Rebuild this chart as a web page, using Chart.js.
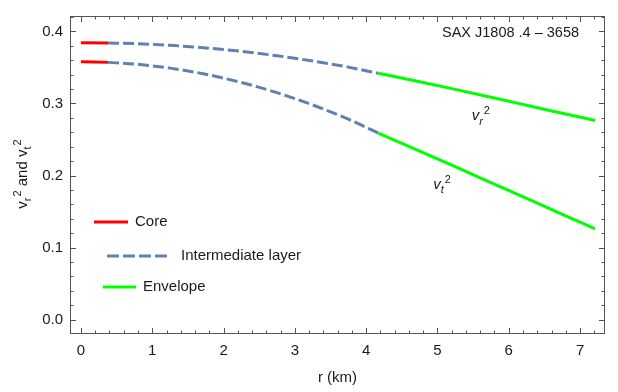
<!DOCTYPE html>
<html lang="en">
<head>
<meta charset="UTF-8" />
<title>SAX J1808.4-3658 sound speeds</title>
<script src="https://cdn.jsdelivr.net/npm/chart.js"></script>
<style>
  body { margin: 0; background: #fff; }
</style>
</head>
<body>
<canvas id="myChart" width="618" height="392"></canvas>
<script>
// radius (km) and squared sound speeds
const coreR = [0, 0.38];
const coreVr = [0.3845, 0.3841];
const coreVt = [0.3580, 0.3571];

const midR = [0.38, 0.75, 1.25, 1.75, 2.25, 2.75, 3.25, 3.75, 4.17];
const midVr = [0.3841, 0.3832, 0.3808, 0.3772, 0.3724, 0.3663, 0.3590, 0.3505, 0.342];
const midVt = [0.3571, 0.3548, 0.3491, 0.3406, 0.3292, 0.3150, 0.2980, 0.2782, 0.259];

const envR = [4.17, 4.75, 5.25, 5.75, 6.25, 6.75, 7.21];
const envVr = [0.342, 0.3302, 0.3196, 0.3087, 0.2976, 0.2864, 0.2765];
const envVt = [0.259, 0.2340, 0.2122, 0.1902, 0.1682, 0.1461, 0.126];

const xTicks = [0, 1, 2, 3, 4, 5, 6, 7];
const yTicks = [0, 0.1, 0.2, 0.3, 0.4];

const FONT = '"Liberation Sans", Arial, sans-serif';
const frameColor = '#555555';
const textColor = '#1a1a1a';
const blue = '#5e81b5';

function pts(xs, ys) {
  return xs.map((x, i) => ({ x: x, y: ys[i] }));
}

function line(label, xs, ys, color, dash) {
  return {
    label: label,
    data: pts(xs, ys),
    borderColor: color,
    borderWidth: 3,
    borderDash: dash || [],
    pointRadius: 0,
    cubicInterpolationMode: 'monotone',
    fill: false
  };
}

// v with sub and superscript 2, returns width
function drawV(ctx, x, y, sub, size, italic) {
  const st = italic ? 'italic ' : '';
  ctx.font = st + size + 'px ' + FONT;
  ctx.fillText('v', x, y);
  let w = ctx.measureText('v').width;
  const small = Math.round(size * 0.75);
  ctx.font = st + small + 'px ' + FONT;
  ctx.fillText(sub, x + w, y + size * 0.28);
  const sw = ctx.measureText(sub).width;
  ctx.font = small + 'px ' + FONT;
  ctx.fillText('2', x + w + sw + 1, y - size * 0.42);
  w += sw + 1 + ctx.measureText('2').width;
  return w;
}

const framePlugin = {
  id: 'frame',
  afterDraw(chart) {
    const ctx = chart.ctx;
    const a = chart.chartArea;
    const xs = chart.scales.x, ys = chart.scales.y;
    ctx.save();
    ctx.strokeStyle = frameColor;
    ctx.lineWidth = 1;
    ctx.strokeRect(a.left + 0.5, a.top + 0.5, a.right - a.left - 1, a.bottom - a.top - 1);
    ctx.beginPath();
    // x ticks every 0.2, major on integers
    for (let i = 0; i <= 36; i++) {
      const v = i * 0.2;
      const px = Math.round(xs.getPixelForValue(v)) + 0.5;
      if (px < a.left || px > a.right) continue;
      const len = (i % 5 === 0) ? 6 : 3.5;
      ctx.moveTo(px, a.bottom);
      ctx.lineTo(px, a.bottom - len);
      ctx.moveTo(px, a.top);
      ctx.lineTo(px, a.top + len);
    }
    // y ticks every 0.02, major every 0.1
    for (let i = 0; i <= 21; i++) {
      const v = i * 0.02;
      const py = Math.round(ys.getPixelForValue(v)) + 0.5;
      if (py < a.top || py > a.bottom) continue;
      const len = (i % 5 === 0) ? 6 : 3.5;
      ctx.moveTo(a.left, py);
      ctx.lineTo(a.left + len, py);
      ctx.moveTo(a.right, py);
      ctx.lineTo(a.right - len, py);
    }
    ctx.stroke();

    ctx.fillStyle = textColor;
    ctx.textBaseline = 'alphabetic';
    ctx.textAlign = 'left';

    // x title
    ctx.font = '15px ' + FONT;
    ctx.textAlign = 'center';
    ctx.fillText('r (km)', (a.left + a.right) / 2, 382);
    ctx.textAlign = 'left';

    // y title, rotated
    ctx.save();
    ctx.translate(27, 173);
    ctx.rotate(-Math.PI / 2);
    ctx.font = '15px ' + FONT;
    const andW = ctx.measureText(' and ').width;
    const total = 2 * 19 + andW;
    let cx = -total / 2;
    cx += drawV(ctx, cx, 0, 'r', 15, false);
    ctx.font = '15px ' + FONT;
    ctx.fillText(' and ', cx, 0);
    cx += andW;
    drawV(ctx, cx, 0, 't', 15, false);
    ctx.restore();

    // title tag
    ctx.font = '14.5px ' + FONT;
    ctx.fillText('SAX J1808 .4 \u2013 3658', 442, 37);

    // curve labels
    drawV(ctx, xs.getPixelForValue(5.48), ys.getPixelForValue(0.2765), 'r', 15, true);
    drawV(ctx, xs.getPixelForValue(4.94), ys.getPixelForValue(0.181), 't', 15, true);

    // legend
    const items = [
      { text: 'Core', color: 'red', dash: [], x0: 94, x1: 128, y: 222, tx: 135 },
      { text: 'Intermediate layer', color: blue, dash: [12, 4], x0: 107, x1: 170, y: 256, tx: 181 },
      { text: 'Envelope', color: '#00ff00', dash: [], x0: 103, x1: 136, y: 287, tx: 143 }
    ];
    items.forEach(it => {
      ctx.beginPath();
      ctx.strokeStyle = it.color;
      ctx.lineWidth = 3;
      ctx.setLineDash(it.dash);
      ctx.moveTo(it.x0, it.y);
      ctx.lineTo(it.x1, it.y);
      ctx.stroke();
      ctx.setLineDash([]);
      ctx.font = '15px ' + FONT;
      ctx.fillStyle = textColor;
      ctx.textBaseline = 'middle';
      ctx.fillText(it.text, it.tx, it.y);
    });
    ctx.restore();
  }
};

new Chart(document.getElementById('myChart'), {
  type: 'line',
  data: {
    datasets: [
      line('Envelope vr', envR, envVr, '#00ff00'),
      line('Envelope vt', envR, envVt, '#00ff00'),
      line('Intermediate vr', midR, midVr, blue, [11, 4]),
      line('Intermediate vt', midR, midVt, blue, [11, 4]),
      line('Core vr', coreR, coreVr, 'red'),
      line('Core vt', coreR, coreVt, 'red')
    ]
  },
  options: {
    responsive: false,
    animation: false,
    layout: { padding: { left: 0, right: 13, top: 5, bottom: 0 } },
    plugins: { legend: { display: false }, tooltip: { enabled: false } },
    scales: {
      x: {
        type: 'linear',
        min: -0.154,
        max: 7.35,
        grid: { display: false, drawTicks: false },
        border: { display: false },
        afterBuildTicks: s => { s.ticks = xTicks.map(v => ({ value: v })); },
        afterFit: s => { s.height = 58; },
        ticks: {
          padding: 8,
          color: textColor,
          font: { family: FONT, size: 15 },
          maxRotation: 0,
          callback: v => String(v)
        }
      },
      y: {
        type: 'linear',
        min: -0.0201,
        max: 0.4215,
        grid: { display: false, drawTicks: false },
        border: { display: false },
        afterBuildTicks: s => { s.ticks = yTicks.map(v => ({ value: v })); },
        afterFit: s => { s.width = 70; },
        ticks: {
          padding: 7,
          color: textColor,
          font: { family: FONT, size: 15 },
          callback: v => v.toFixed(1)
        }
      }
    }
  },
  plugins: [framePlugin]
});
</script>
</body>
</html>
